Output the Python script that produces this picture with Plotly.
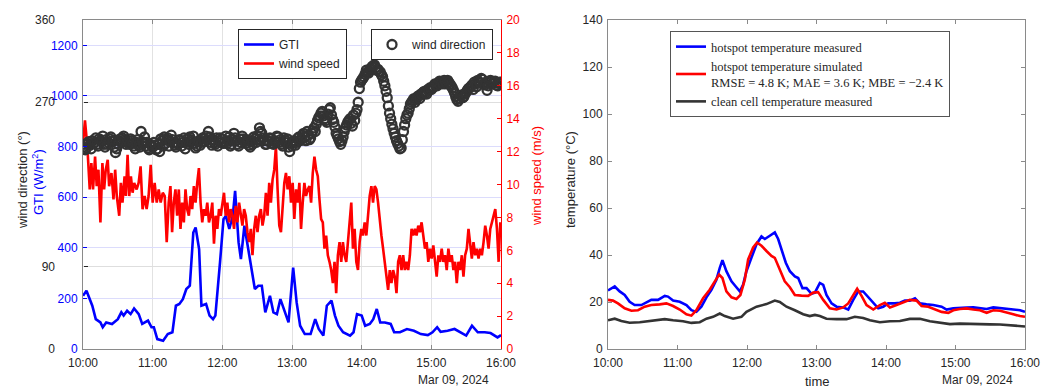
import numpy as np
import pandas as pd
import plotly.graph_objects as go

BASE = pd.Timestamp("2024-03-09 10:00")

def tm(mins):
    return BASE + pd.to_timedelta(np.asarray(mins, dtype=float), unit="m")

# ---------------- left panel data ----------------
gti_min = [0, 3, 8, 11, 15, 17, 20, 25, 30, 33, 35, 38, 41, 44, 48, 51, 56, 59, 61, 64, 69, 73, 77, 80,
           83, 86, 89, 92, 95, 97, 100, 102, 106, 109, 112, 114, 118, 121, 123, 126, 129, 131, 134, 136,
           139, 142, 145, 148, 151, 154, 157, 161, 164, 167, 170, 172, 177, 181, 184, 187, 191, 196, 200,
           203, 207, 210, 214, 217, 220, 224, 230, 233, 236, 240, 243, 247, 250, 253, 256, 260, 265, 268,
           273, 279, 285, 291, 297, 301, 305, 308, 314, 320, 325, 330, 335, 340, 346, 351, 357, 360]
gti_val = [210, 230, 171, 118, 105, 86, 105, 99, 118, 145, 132, 151, 138, 160, 138, 99, 112, 86, 86, 39,
           33, 59, 66, 171, 178, 197, 237, 250, 460, 480, 395, 171, 178, 132, 118, 132, 342, 513, 526, 474,
           526, 625, 421, 355, 487, 408, 329, 237, 250, 250, 145, 210, 145, 138, 197, 171, 105, 322, 184,
           92, 59, 59, 118, 79, 53, 171, 191, 132, 92, 66, 53, 66, 138, 132, 92, 99, 118, 158, 105, 105,
           99, 66, 66, 79, 72, 59, 55, 66, 86, 68, 72, 79, 66, 53, 92, 66, 66, 63, 46, 55]

ws_head_min = [0, 1.7, 3.75, 5.8, 7.2, 8.65, 10.4, 11.8, 13.3, 15.0, 16.7, 18.2, 19.6, 21.3, 22.5, 24.5,
               26.25, 27.7, 29.1, 31.2, 32.6, 34.0, 35.8, 36.9, 38.4, 39.8, 41.25, 42.7, 44.1, 46.2, 47.9,
               49.6, 51.3, 53.1, 54.8, 56.5, 58.3, 60.0, 61.7, 63.5, 65.2, 66.9, 68.7, 70.4, 72.1, 73.8]
ws_head_val = [12.5, 13.9, 12.3, 9.7, 11.3, 9.7, 11.7, 9.9, 10.9, 7.7, 11.3, 9.7, 10.9, 11.5, 9.9, 10.7,
               9.1, 10.9, 9.3, 8.1, 10.1, 8.9, 10.5, 9.3, 11.8, 9.3, 10.5, 9.5, 10.1, 9.7, 10.1, 11.1,
               8.5, 9.3, 8.5, 9.3, 11.2, 8.9, 10.1, 8.9, 9.7, 8.9, 9.5, 9.3, 6.5, 8.9]
ws_tail_start, ws_tail_end = 75.3, 359.4   # minutes after 10:00, evenly sampled
ws_tail_val = [9.9, 7.1, 8.9, 9.7, 8.1, 9.7, 7.3, 8.9, 7.7, 9.7, 8.5, 8.1, 9.3, 8.5, 9.9, 8.9, 10.1, 11.0,
               8.9, 7.7, 8.5, 8.1, 8.9, 7.7, 8.1, 8.9, 6.4, 8.1, 7.3, 8.5, 8.1, 8.9, 9.5, 8.1, 8.9, 7.7,
               8.5, 8.1, 7.3, 8.7, 7.7, 8.9, 8.1, 7.5, 8.5, 8.1, 7.1, 6.5, 7.3, 5.7, 7.3, 8.1, 7.1, 8.1,
               8.5, 7.5, 8.1, 9.5, 8.1, 10.1, 8.9, 10.3, 10.9, 12.3, 9.7, 7.5, 7.1, 8.9, 10.1, 10.7, 9.7,
               10.5, 8.9, 10.1, 7.9, 9.7, 8.9, 10.1, 7.3, 8.9, 10.1, 9.3, 9.7, 9.9, 8.9, 10.7, 11.7, 10.9,
               10.5, 9.1, 7.9, 7.7, 6.1, 6.9, 5.7, 5.3, 4.8, 4.0, 5.3, 3.4, 5.7, 6.5, 5.3, 6.5, 5.7, 5.3,
               6.5, 7.7, 8.9, 6.1, 7.3, 5.3, 4.8, 6.5, 7.3, 6.9, 7.7, 6.9, 8.1, 9.3, 9.9, 8.9, 9.9, 9.7,
               8.9, 7.7, 6.9, 6.1, 5.3, 4.4, 3.6, 4.8, 4.0, 4.8, 4.4, 3.4, 5.3, 5.7, 4.8, 5.7, 4.8, 5.3,
               4.8, 5.7, 7.3, 6.9, 7.3, 6.9, 7.5, 7.1, 7.7, 6.9, 6.1, 6.5, 5.3, 6.1, 5.5, 6.3, 5.3, 4.4,
               5.7, 5.3, 6.1, 5.3, 5.7, 4.8, 6.1, 5.3, 5.7, 4.8, 5.3, 4.0, 5.3, 4.8, 5.7, 4.4, 5.7, 6.1,
               7.3, 6.5, 5.5, 6.5, 5.7, 6.1, 5.5, 6.1, 5.7, 6.5, 7.5, 6.9, 6.1, 7.3, 7.7, 8.1, 8.5, 7.3,
               5.3, 7.7]

# wind direction, even minutes 10:00 .. 16:00
wd_even = [221, 218, 225, 223, 228, 226, 224, 230, 227, 224,
           229, 226, 232, 228, 215, 225, 230, 231, 229, 226,
           224, 228, 222, 226, 223, 238, 225, 222, 220, 224,
           221, 223, 219, 216, 228, 232, 229, 222, 234, 226,
           221, 224, 228, 226, 219, 230, 232, 227, 225, 222,
           228, 226, 230, 233, 238, 226, 229, 224, 222, 231,
           230, 227, 225, 232, 224, 236, 228, 222, 226, 230,
           225, 228, 221, 224, 230, 233, 242, 236, 228, 224,
           227, 230, 224, 226, 232, 229, 222, 226, 230, 216,
           222, 228, 226, 232, 230, 236, 228, 234, 231, 239,
           238, 250, 255, 260, 252, 248, 262, 256, 248, 236,
           230, 224, 232, 242, 248, 252, 244, 250, 262, 285,
           294, 298, 305, 302, 307, 310, 308, 306, 303, 298,
           288, 275, 258, 246, 236, 228, 222, 220, 238, 252,
           258, 268, 272, 270, 276, 274, 278, 282, 279, 283,
           284, 287, 289, 291, 292, 290, 293, 294, 290, 286,
           280, 273, 274, 278, 276, 281, 285, 287, 284, 290,
           294, 291, 295, 289, 283, 293, 290, 292, 289, 291,
           290]
# wind direction, odd minutes 10:01 .. 15:59
wd_odd = [224, 220, 227, 219, 225, 231, 222, 228, 233, 221,
          224, 230, 227, 221, 219, 228, 226, 233, 224, 228,
          230, 225, 219, 229, 221, 227, 232, 226, 218, 223,
          226, 218, 224, 230, 222, 225, 231, 227, 229, 223,
          225, 229, 222, 231, 226, 224, 229, 233, 220, 227,
          223, 231, 227, 229, 232, 223, 226, 231, 228, 226,
          225, 233, 228, 222, 229, 231, 224, 230, 233, 227,
          229, 223, 227, 232, 226, 229, 238, 231, 224, 228,
          231, 225, 228, 233, 226, 224, 231, 228, 221, 225,
          226, 223, 231, 228, 234, 232, 238, 229, 236, 242,
          246, 253, 258, 255, 250, 257, 264, 251, 243, 233,
          227, 228, 238, 245, 250, 247, 256, 258, 270, 292,
          296, 301, 303, 306, 309, 311, 305, 304, 300, 293,
          282, 266, 252, 241, 232, 225, 219, 229, 245, 256,
          263, 270, 274, 273, 277, 279, 281, 280, 284, 286,
          286, 290, 288, 293, 291, 294, 290, 292, 288, 283,
          276, 271, 277, 275, 279, 283, 286, 289, 292, 287,
          292, 296, 290, 292, 288, 294, 291, 293, 288, 292]

# ---------------- right panel data ----------------
hs_meas_min = [0, 5.8, 10.1, 14.4, 18.7, 23.0, 28.8, 33.1, 37.4, 43.2, 49.0, 51.8, 56.2, 61.9, 67.7, 72.0,
               76.3, 80.6, 85.0, 89.3, 93.6, 96.5, 98.8, 102.2, 106.6, 110.3, 113.8, 116.6, 119.5, 123.8,
               128.2, 132.5, 135.4, 139.7, 144.0, 146.9, 149.8, 153.5, 157.0, 161.3, 164.2, 167.9, 171.4,
               175.7, 178.6, 182.9, 185.8, 188.6, 193.0, 197.3, 203.0, 207.4, 211.7, 216.0, 220.3, 224.6,
               229.0, 233.3, 237.6, 241.9, 247.7, 252.0, 256.3, 260.6, 265.0, 269.3, 275.0, 280.8, 288.0,
               292.3, 298.1, 303.8, 309.6, 315.4, 321.1, 326.9, 332.6, 338.4, 344.2, 349.9, 355.7, 360]
hs_meas_val = [24.9, 26.6, 24.5, 23.0, 20.1, 18.7, 18.7, 19.7, 20.9, 20.9, 22.6, 22.3, 20.6, 20.1, 18.7,
               16.5, 15.8, 18.0, 22.0, 25.2, 29.5, 34.5, 37.8, 33.1, 28.8, 26.6, 24.5, 27.3, 33.1, 38.8,
               44.6, 47.9, 46.8, 48.2, 49.6, 46.8, 42.4, 36.7, 33.1, 30.9, 30.2, 25.9, 25.9, 23.5, 24.0,
               28.1, 27.3, 23.0, 19.4, 18.0, 17.7, 16.8, 20.9, 24.5, 24.5, 22.0, 19.4, 17.3, 18.0, 19.4,
               19.4, 19.7, 20.6, 20.6, 21.6, 19.4, 19.0, 18.7, 18.0, 16.8, 17.3, 17.6, 17.6, 17.7, 17.3,
               17.0, 17.7, 17.4, 16.8, 16.8, 16.5, 15.8]

hs_sim_min = [0, 4.3, 8.6, 14.4, 20.2, 25.9, 31.7, 37.4, 44.6, 50.4, 56.2, 61.9, 67.7, 72.0, 76.3, 82.1,
              87.8, 92.2, 95.9, 98.8, 102.2, 106.6, 110.9, 114.3, 118.1, 121.0, 125.3, 128.7, 132.5, 136.8,
              141.1, 144.0, 148.3, 152.6, 157.0, 161.3, 167.0, 172.8, 177.1, 181.4, 185.8, 191.5, 197.3,
              203.0, 207.4, 211.7, 215.1, 218.9, 223.2, 229.0, 234.7, 239.0, 243.4, 249.1, 254.9, 260.6,
              266.4, 270.7, 276.5, 282.2, 288.0, 293.8, 298.1, 303.8, 309.6, 315.4, 321.1, 326.9, 332.6,
              338.4, 344.2, 349.9, 355.7, 360]
hs_sim_val = [20.9, 20.6, 19.4, 17.3, 16.3, 16.5, 18.0, 18.7, 19.0, 19.4, 18.3, 16.8, 14.8, 14.2, 16.5,
              21.6, 25.2, 28.8, 31.7, 30.2, 24.5, 22.0, 21.3, 23.0, 29.5, 38.1, 43.2, 45.3, 43.9, 41.7,
              39.6, 38.8, 33.8, 28.8, 26.3, 23.0, 22.7, 22.6, 24.0, 24.2, 20.9, 17.3, 16.8, 17.7, 19.4,
              23.0, 25.6, 22.6, 18.7, 16.8, 18.7, 19.7, 17.7, 18.7, 19.7, 20.9, 20.6, 18.3, 18.0, 16.8,
              15.8, 15.4, 16.5, 17.0, 17.3, 16.8, 16.5, 15.4, 16.5, 16.3, 15.4, 14.8, 14.0, 13.7]

clean_min = [0, 5.8, 11.5, 18.7, 27.4, 33.1, 41.8, 49.0, 56.2, 64.8, 72.0, 79.2, 85.0, 90.7, 96.5, 100.8,
             108.0, 115.2, 119.5, 128.2, 136.8, 144.0, 148.3, 154.1, 161.3, 168.5, 174.2, 178.6, 182.9,
             188.6, 197.3, 205.9, 213.1, 220.3, 226.1, 234.7, 243.4, 252.0, 260.6, 269.3, 277.9, 286.6,
             295.2, 303.8, 312.5, 321.1, 329.8, 338.4, 347.0, 355.7, 360]
clean_val = [12.2, 12.9, 11.9, 11.2, 11.4, 11.8, 12.2, 12.7, 12.2, 11.8, 11.1, 11.4, 12.9, 13.7, 15.1, 14.0,
             12.9, 13.7, 15.8, 18.0, 19.1, 20.6, 20.0, 18.0, 16.5, 14.8, 14.0, 14.5, 14.0, 12.9, 12.7,
             12.7, 13.7, 13.2, 12.2, 11.4, 11.8, 11.9, 12.8, 12.9, 11.8, 11.1, 10.6, 10.8, 10.8, 10.6,
             10.5, 10.4, 10.1, 9.8, 9.6]

# axis tick sets
gti_ticks = [0, 200, 400, 600, 800, 1000, 1200]
wd_ticks = [0, 90, 270, 360]
ws_ticks = list(range(0, 21, 2))
temp_ticks = list(range(0, 141, 20))

# ---------------- build ----------------
W, H = 1056, 388
def px(x): return x / W
def py(y): return 1 - y / H

FONT = "Liberation Sans, Arial, sans-serif"
SERIF = "Liberation Serif, Times New Roman, serif"
TXT = "#262626"
AX = "#8a8a8a"

ws_min = list(ws_head_min) + list(np.linspace(ws_tail_start, ws_tail_end, len(ws_tail_val)))
ws_val = list(ws_head_val) + list(ws_tail_val)
wd_min = [2 * i for i in range(len(wd_even))] + [2 * i + 1 for i in range(len(wd_odd))]
wd_val = list(wd_even) + list(wd_odd)
order = np.argsort(wd_min, kind="stable")
wd_min = [wd_min[i] for i in order]
wd_val = [wd_val[i] for i in order]

fig = go.Figure()
fig.add_trace(go.Scatter(x=tm(gti_min), y=gti_val, mode="lines", name="GTI",
                         line=dict(color="#0000ff", width=2.6), xaxis="x", yaxis="y", legend="legend"))
fig.add_trace(go.Scatter(x=tm(ws_min), y=ws_val, mode="lines", name="wind speed",
                         line=dict(color="#ff0000", width=2.6), xaxis="x", yaxis="y2", legend="legend"))
fig.add_trace(go.Scatter(x=tm(wd_min), y=wd_val, mode="markers", name="wind direction",
                         marker=dict(symbol="circle-open", size=9, color="#333333",
                                     line=dict(width=2.3, color="#333333")),
                         xaxis="x", yaxis="y3", legend="legend2"))

fig.add_trace(go.Scatter(x=tm(hs_meas_min), y=hs_meas_val, mode="lines", name="hotspot temperature measured",
                         line=dict(color="#0000ff", width=2.6), xaxis="x2", yaxis="y4", legend="legend3"))
fig.add_trace(go.Scatter(x=tm(hs_sim_min), y=hs_sim_val, mode="lines",
                         name="hotspot temperature simulated<br>RMSE = 4.8 K; MAE = 3.6 K; MBE = \u22122.4 K",
                         line=dict(color="#ff0000", width=2.6), xaxis="x2", yaxis="y4", legend="legend3"))
fig.add_trace(go.Scatter(x=tm(clean_min), y=clean_val, mode="lines", name="clean cell temperature measured",
                         line=dict(color="#333333", width=2.6), xaxis="x2", yaxis="y4", legend="legend3"))

xr = [BASE, BASE + pd.Timedelta(hours=6)]
dom_y = [py(349), py(20)]
common_x = dict(type="date", range=xr, tickformat="%H:%M", dtick=3600000, tick0=BASE,
                ticks="inside", ticklen=4, tickcolor=AX, showline=True, linecolor=AX, linewidth=1,
                mirror="ticks", tickfont=dict(family=FONT, size=12, color=TXT), zeroline=False,
                automargin=False, ticklabelstandoff=3)

fig.update_layout(
    width=W, height=H, margin=dict(l=0, r=0, t=0, b=0, pad=0, autoexpand=False),
    paper_bgcolor="white", plot_bgcolor="white",
    font=dict(family=FONT, size=12, color=TXT),
    xaxis=dict(domain=[px(83), px(501)], anchor="y", showgrid=True, gridcolor="#e2e2e2", **common_x),
    yaxis=dict(domain=dom_y, anchor="x", range=[0, 1300], tickvals=gti_ticks, ticks="inside", ticklen=4,
               tickcolor="#0000ff", showline=True, linecolor=AX, linewidth=1, showgrid=True,
               gridcolor="#dcdcfc", zeroline=False, ticklabelstandoff=2, automargin=False,
               tickfont=dict(family=FONT, size=12, color="#0000ff")),
    yaxis3=dict(overlaying="y", anchor="free", position=px(83), side="left", range=[0, 360],
                tickvals=wd_ticks, ticks="inside", ticklen=4, tickcolor=TXT, showline=False,
                showgrid=True, gridcolor="#dedede", zeroline=False, ticklabelstandoff=28,
                automargin=False, autoshift=False,
                tickfont=dict(family=FONT, size=12, color=TXT)),
    yaxis2=dict(overlaying="y", anchor="x", side="right", range=[0, 20], tickvals=ws_ticks,
                ticks="inside", ticklen=4, tickcolor="#ff0000", showline=True, linecolor="#ff0000",
                linewidth=1, showgrid=False, zeroline=False, ticklabelstandoff=2, automargin=False,
                tickfont=dict(family=FONT, size=12, color="#ff0000")),
    xaxis2=dict(domain=[px(608), px(1025)], anchor="y4", showgrid=False, **common_x),
    yaxis4=dict(domain=dom_y, anchor="x2", range=[0, 140], tickvals=temp_ticks, ticks="inside",
                ticklen=4, tickcolor=AX, showline=True, linecolor=AX, linewidth=1, mirror="ticks",
                showgrid=False, zeroline=False, ticklabelstandoff=2, automargin=False,
                tickfont=dict(family=FONT, size=12, color=TXT)),
    legend=dict(x=px(238), y=py(29), xanchor="left", yanchor="top", bgcolor="white",
                bordercolor=TXT, borderwidth=1, font=dict(family=FONT, size=12, color=TXT),
                tracegroupgap=0),
    legend2=dict(x=px(371), y=py(29), xanchor="left", yanchor="top", bgcolor="white",
                 bordercolor=TXT, borderwidth=1, font=dict(family=FONT, size=12, color=TXT)),
    legend3=dict(x=px(670), y=py(31), xanchor="left", yanchor="top", bgcolor="white",
                 bordercolor="#555555", borderwidth=1, font=dict(family=SERIF, size=12.5, color=TXT)),
)

ann = [
    dict(text="wind direction (\u00b0)", x=px(22), y=py(180), textangle=-90, font=dict(color=TXT, size=13)),
    dict(text="GTI (W/m<sup>2</sup>)", x=px(38), y=py(182), textangle=-90, font=dict(color="#0000ff", size=13)),
    dict(text="wind speed (m/s)", x=px(537), y=py(176), textangle=-90, font=dict(color="#ff0000", size=13)),
    dict(text="temperature (\u00b0C)", x=px(570), y=py(180), textangle=-90, font=dict(color=TXT, size=13)),
    dict(text="Mar 09, 2024", x=px(453), y=py(380), font=dict(color=TXT, size=12)),
    dict(text="Mar 09, 2024", x=px(977), y=py(380), font=dict(color=TXT, size=12)),
    dict(text="time", x=px(817), y=py(381), font=dict(color=TXT, size=13)),
]
for a in ann:
    fig.add_annotation(xref="paper", yref="paper", showarrow=False, xanchor="center", yanchor="middle",
                       font_family=FONT, **a)

fig.write_html("out.html")
